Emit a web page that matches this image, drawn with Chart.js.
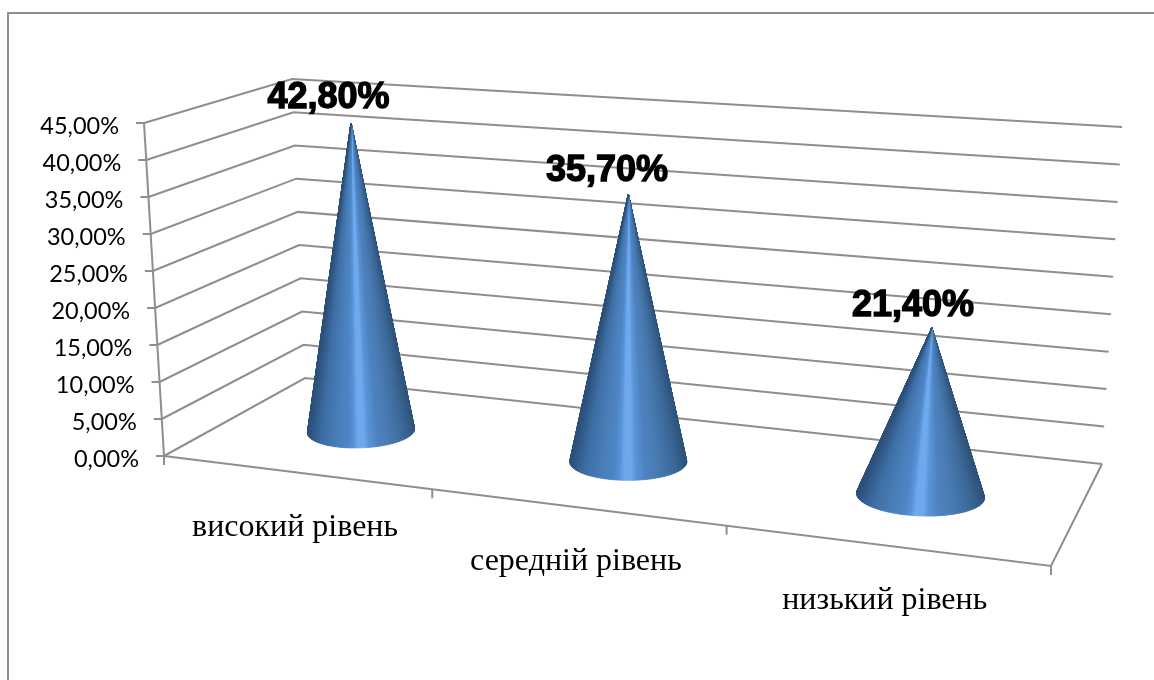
<!DOCTYPE html>
<html>
<head>
<meta charset="utf-8">
<title>Рівні</title>
<script src="https://cdn.jsdelivr.net/npm/chart.js@4"></script>
<style>
  html, body { margin: 0; padding: 0; background: #fff; overflow: hidden; }
  #wrap { width: 1154px; height: 680px; }
</style>
</head>
<body>
<div id="wrap"><canvas id="coneChart" width="1154" height="680"></canvas></div>
<script>
// Chart data
const categories = ["високий рівень", "середній рівень", "низький рівень"];
const values = [42.8, 35.7, 21.4];
const valueLabels = ["42,80%", "35,70%", "21,40%"];
const tickLabels = ["0,00%", "5,00%", "10,00%", "15,00%", "20,00%", "25,00%", "30,00%", "35,00%", "40,00%", "45,00%"];

// Corners of the 3D box on the screen, front-left, front-right, back-right, back-left
const floorQuad = [[164, 456], [1051, 566], [1102, 464], [305, 378]];
const roofQuad = [[144, 123], [1110, 191], [1122, 127], [292, 79]];

const gridColor = "#8e8e8e";

// Gradient around the cone, from the left edge to the right edge
const coneStops = [
  [-1, [44, 80, 120]], [-0.75, [62, 110, 165]], [-0.45, [74, 127, 186]], [-0.25, [79, 134, 198]],
  [-0.15, [90, 148, 215]], [-0.08, [112, 170, 238]], [0.04, [112, 170, 238]], [0.12, [92, 150, 216]],
  [0.3, [78, 130, 192]], [0.5, [74, 124, 178]], [0.8, [60, 104, 152]], [1, [45, 83, 121]],
];

// Perspective map of the unit square onto a quad
function quadMap(q) {
  const [p0, p1, p2, p3] = q;
  const dx1 = p1[0] - p2[0], dx2 = p3[0] - p2[0], sx = p0[0] - p1[0] + p2[0] - p3[0];
  const dy1 = p1[1] - p2[1], dy2 = p3[1] - p2[1], sy = p0[1] - p1[1] + p2[1] - p3[1];
  const det = dx1 * dy2 - dx2 * dy1;
  const g = (sx * dy2 - dx2 * sy) / det;
  const h = (dx1 * sy - sx * dy1) / det;
  const a = p1[0] - p0[0] + g * p1[0], b = p3[0] - p0[0] + h * p3[0];
  const d = p1[1] - p0[1] + g * p1[1], e = p3[1] - p0[1] + h * p3[1];
  return (u, v) => {
    const w = g * u + h * v + 1;
    return [(a * u + b * v + p0[0]) / w, (d * u + e * v + p0[1]) / w];
  };
}

const floorAt = quadMap(floorQuad);
const roofAt = quadMap(roofQuad);

// u along the category axis, d into the depth, t up the value axis (all 0..1)
function project(u, d, t) {
  const a = floorAt(u, d), b = roofAt(u, d);
  return [a[0] + (b[0] - a[0]) * t, a[1] + (b[1] - a[1]) * t];
}

function line(ctx, a, b) {
  ctx.beginPath();
  ctx.moveTo(a[0], a[1]);
  ctx.lineTo(b[0], b[1]);
  ctx.stroke();
}

function coneColor(c) {
  for (let i = 1; i < coneStops.length; i++) {
    if (c <= coneStops[i][0]) {
      const [p0, c0] = coneStops[i - 1], [p1, c1] = coneStops[i];
      const k = (c - p0) / (p1 - p0);
      return `rgb(${c0.map((v, j) => Math.round(v + (c1[j] - v) * k)).join(",")})`;
    }
  }
  return "rgb(45,83,121)";
}

function drawCone(ctx, u, t) {
  const base = project(u, 0.48, 0);
  const apex = project(u, 0.5, t);
  const left = project(u - 0.0695, 0.5, 0), right = project(u + 0.0695, 0.5, 0);
  const near = project(u, 0.29, 0), far = project(u, 0.71, 0);
  const rx = Math.hypot(right[0] - left[0], right[1] - left[1]) / 2;
  const ry = Math.abs(near[1] - far[1]) / 2;
  const tilt = (u - 0.5) * 0.12;
  const point = (a) => {
    const x = rx * Math.cos(a), y = ry * Math.sin(a);
    return [base[0] + x * Math.cos(tilt) - y * Math.sin(tilt), base[1] + x * Math.sin(tilt) + y * Math.cos(tilt)];
  };
  const wedge = (a0, a1) => {
    const color = coneColor(Math.cos((a0 + a1) / 2));
    const p0 = point(a0), p1 = point(a1);
    ctx.fillStyle = color;
    ctx.strokeStyle = color;
    ctx.beginPath();
    ctx.moveTo(apex[0], apex[1]);
    ctx.lineTo(p0[0], p0[1]);
    ctx.lineTo(p1[0], p1[1]);
    ctx.closePath();
    ctx.fill();
    ctx.stroke();
  };
  const steps = 120;
  ctx.lineWidth = 0.8;
  ctx.lineJoin = "round";
  // back half of the cone
  for (let i = 0; i < steps; i++) {
    wedge(Math.PI + (i / steps) * Math.PI, Math.PI + ((i + 1) / steps) * Math.PI);
  }
  // solid under the front half, so that no white shows through the seams
  ctx.fillStyle = "rgb(74,127,186)";
  ctx.beginPath();
  ctx.ellipse(base[0], base[1], rx - 1, ry - 1, tilt, 0, Math.PI * 2);
  ctx.fill();
  // front half
  for (let i = 0; i < steps; i++) {
    wedge((i / steps) * Math.PI, ((i + 1) / steps) * Math.PI);
  }
}

// Draws the box, the axes and the category labels behind the cones
const boxPlugin = {
  id: "box",
  beforeDatasetsDraw(chart) {
    const ctx = chart.ctx;
    const yScale = chart.scales.y;
    const n = categories.length;
    ctx.save();
    ctx.strokeStyle = gridColor;
    ctx.lineWidth = 2;
    ctx.lineCap = "butt";

    // outer frame
    ctx.beginPath();
    ctx.moveTo(8, 680);
    ctx.lineTo(8, 13);
    ctx.lineTo(1154, 13);
    ctx.stroke();

    // walls
    yScale.ticks.forEach((tick) => {
      const t = (yScale.bottom - yScale.getPixelForValue(tick.value)) / (yScale.bottom - yScale.top);
      ctx.beginPath();
      const a = project(0, 0, t), b = project(0, 1, t), c = project(1, 1, t);
      ctx.moveTo(a[0], a[1]);
      ctx.lineTo(b[0], b[1]);
      ctx.lineTo(c[0], c[1]);
      ctx.stroke();
      line(ctx, [a[0] - 8, a[1]], a);
    });
    line(ctx, project(0, 0, 0), project(0, 0, 1));
    ctx.beginPath();
    const fl = project(0, 0, 0), fr = project(1, 0, 0), br = project(1, 1, 0);
    ctx.moveTo(fl[0], fl[1]);
    ctx.lineTo(fr[0], fr[1]);
    ctx.lineTo(br[0], br[1]);
    ctx.stroke();

    // ticks under the front edge
    for (let i = 0; i <= n; i++) {
      const p = project(i / n, 0, 0);
      line(ctx, p, [p[0], p[1] + 9]);
    }

    // value axis labels
    ctx.fillStyle = "#000";
    ctx.font = '23.5px Lato';
    ctx.textAlign = "right";
    ctx.textBaseline = "middle";
    yScale.ticks.forEach((tick, i) => {
      const t = (yScale.bottom - yScale.getPixelForValue(tick.value)) / (yScale.bottom - yScale.top);
      const p = project(0, 0, t);
      ctx.fillText(tickLabels[i], p[0] - 25, p[1] + 3);
    });

    // category labels
    const xScale = chart.scales.x;
    ctx.font = '32px "Liberation Serif"';
    ctx.textAlign = "center";
    categories.forEach((label, i) => {
      const u = (xScale.getPixelForValue(i) - xScale.left) / xScale.width;
      const p = project(u, 0, 0);
      ctx.fillText(label, p[0], p[1] + 55);
    });
    ctx.restore();
  },
  afterDatasetsDraw(chart) {
    const ctx = chart.ctx;
    const xScale = chart.scales.x, yScale = chart.scales.y;
    chart.getDatasetMeta(0).data.forEach((bar, i) => {
      const u = (bar.x - xScale.left) / xScale.width;
      const t = (yScale.bottom - bar.y) / (yScale.bottom - yScale.top);
      ctx.save();
      drawCone(ctx, u, t);
      ctx.restore();
    });
    // value labels go on top of everything
    chart.getDatasetMeta(0).data.forEach((bar, i) => {
      const u = (bar.x - xScale.left) / xScale.width;
      const t = (yScale.bottom - bar.y) / (yScale.bottom - yScale.top);
      const p = project(u, 0.5, t);
      const lx = p[0] - 15 - 8 * t, ly = p[1] - 18 - 7 * t;
      ctx.save();
      ctx.font = 'bold 36px "Liberation Sans"';
      ctx.textAlign = "center";
      ctx.textBaseline = "middle";
      ctx.lineWidth = 1.4;
      ctx.strokeStyle = "#000";
      ctx.fillStyle = "#000";
      ctx.strokeText(valueLabels[i], lx, ly);
      ctx.fillText(valueLabels[i], lx, ly);
      ctx.restore();
    });
  },
};

new Chart(document.getElementById("coneChart"), {
  type: "bar",
  data: {
    labels: categories,
    datasets: [{ data: values, backgroundColor: "transparent", borderWidth: 0 }],
  },
  options: {
    responsive: false,
    animation: false,
    layout: { padding: { left: 164, right: 103, top: 123, bottom: 114 } },
    plugins: { legend: { display: false }, tooltip: { enabled: false } },
    scales: {
      x: { display: false },
      y: { display: false, min: 0, max: 45, ticks: { stepSize: 5 } },
    },
  },
  plugins: [boxPlugin],
});
</script>
</body>
</html>
